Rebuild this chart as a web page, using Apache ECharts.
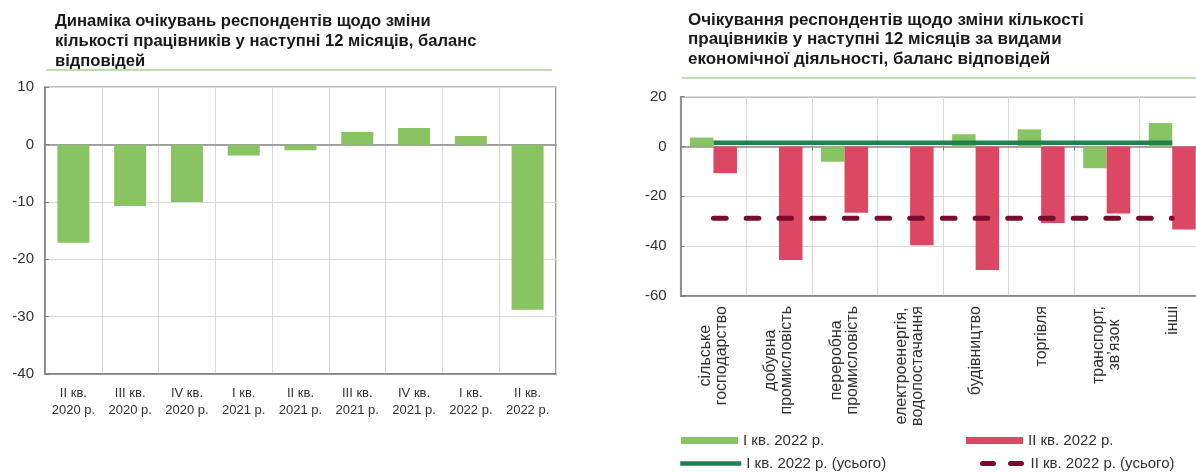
<!DOCTYPE html>
<html>
<head>
<meta charset="utf-8">
<script src="https://cdn.jsdelivr.net/npm/echarts@6/dist/echarts.min.js"></script>
<style>
    html, body { margin: 0; padding: 0; background: #fff; overflow: hidden; width: 1196px; height: 472px; }
    /* the source picture is cropped on the right, so the canvas runs a few px past the window */
    #chart { width: 1205px; height: 472px; }
</style>
</head>
<body>
<div id="chart"></div>
<script>
// Left chart: dynamics by quarter
const periods = ['II кв.\n2020 р.', 'III кв.\n2020 р.', 'IV кв.\n2020 р.', 'I кв.\n2021 р.', 'II кв.\n2021 р.',
    'III кв.\n2021 р.', 'IV кв.\n2021 р.', 'I кв.\n2022 р.', 'II кв.\n2022 р.'];
const balanceByPeriod = [-17.1, -10.7, -10.0, -1.9, -1.0, 2.2, 2.9, 1.5, -28.8];
const leftTicks = { min: -40, max: 10, interval: 10 };

// Right chart: by kind of economic activity
const sectors = ['сільське\nгосподарство', 'добувна\nпромисловість', 'переробна\nпромисловість',
    'електроенергія,\nводопостачання', 'будівництво', 'торгівля', 'транспорт,\nзв’язок', 'інші'];
const q1Sectors = [3.6, 0, -6.1, 0, 4.9, 6.9, -8.7, 9.4];
const q2Sectors = [-10.7, -45.5, -26.6, -39.6, -49.6, -30.7, -26.9, -33.3];
const q1Total = [1.5, 1.5, 1.5, 1.5, 1.5, 1.5, 1.5, 1.5];
const q2Total = [-28.8, -28.8, -28.8, -28.8, -28.8, -28.8, -28.8, -28.8];
const rightTicks = { min: -60, max: 20, interval: 20 };

const seriesNames = ['I кв. 2022 р.', 'II кв. 2022 р.', 'I кв. 2022 р. (усього)', 'II кв. 2022 р. (усього)'];

const FONT = '"Liberation Sans", Arial, sans-serif';
const TEXT = '#333333';
const FRAME = '#7f7f7f';
const GRIDLINE = '#dadada';
const GREEN = '#88c461';
const RED = '#dc4863';
const DARK_GREEN = '#21804c';
const MAROON = '#7a0b2d';

const titleStyle = (size) => ({
    fontSize: size,
    fontWeight: 'bold',
    color: '#1a1a1a',
    fontFamily: FONT,
    lineHeight: 19.8
});

function valueAxis(gridIndex, ticks, margin) {
    return {
        type: 'value',
        gridIndex: gridIndex,
        min: ticks.min,
        max: ticks.max,
        interval: ticks.interval,
        axisLine: { show: true, lineStyle: { color: FRAME, width: 1.5 } },
        axisTick: { show: true, inside: true, length: 4, lineStyle: { color: FRAME } },
        axisLabel: { fontSize: 15, color: TEXT, fontFamily: FONT, margin: margin },
        splitLine: { lineStyle: { color: GRIDLINE, width: 1 } }
    };
}

function zeroAxis(gridIndex, data, showTicks) {
    return {
        type: 'category',
        gridIndex: gridIndex,
        data: data,
        position: 'top',
        axisLine: { show: true, onZero: true, lineStyle: { color: '#8a8a8a', width: 1.5 } },
        axisTick: { show: showTicks, inside: true, length: 4, lineStyle: { color: FRAME } },
        axisLabel: { show: false },
        splitLine: { show: false }
    };
}

function legendItem(name, left, top, extra) {
    return Object.assign({
        left: left,
        top: top,
        padding: 0,
        itemGap: 0,
        selectedMode: false,
        textStyle: { fontSize: 15, color: TEXT, fontFamily: FONT },
        data: [name]
    }, extra);
}

const option = {
    animation: false,
    backgroundColor: '#ffffff',
    title: [
        {
            text: 'Динаміка очікувань респондентів щодо зміни\nкількості працівників у наступні 12 місяців, баланс\nвідповідей',
            left: 55,
            top: 12,
            padding: 0,
            textStyle: titleStyle(16.6)
        },
        {
            text: 'Очікування респондентів щодо зміни кількості\nпрацівників у наступні 12 місяців за видами\nекономічної діяльності, баланс відповідей',
            left: 688,
            top: 10,
            padding: 0,
            textStyle: titleStyle(17)
        }
    ],
    graphic: [
        { type: 'line', shape: { x1: 46, y1: 70, x2: 552, y2: 70 }, style: { stroke: '#a9d38f', lineWidth: 1.5 } },
        { type: 'line', shape: { x1: 682, y1: 78, x2: 1205, y2: 78 }, style: { stroke: '#a9d38f', lineWidth: 1.5 } }
    ],
    legend: [
        legendItem(seriesNames[0], 681, 433, { itemWidth: 57, itemHeight: 7, icon: 'rect' }),
        legendItem(seriesNames[2], 678, 456, { itemWidth: 61, itemHeight: 14, lineStyle: { width: 4.5 }, itemStyle: { opacity: 0 } }),
        legendItem(seriesNames[1], 966, 433, { itemWidth: 57, itemHeight: 7, icon: 'rect' }),
        legendItem(seriesNames[3], 980, 456, {
            itemWidth: 43,
            itemHeight: 14,
            lineStyle: { width: 5, type: [11, 17], cap: 'round' },
            itemStyle: { opacity: 0 }
        })
    ],
    grid: [
        { left: 45, right: 649, top: 87.3, bottom: 98, show: true, borderColor: FRAME, borderWidth: 1.5 },
        { left: 680.7, right: 0, top: 96.7, bottom: 176, show: true, borderColor: FRAME, borderWidth: 1.5 }
    ],
    xAxis: [
        {
            type: 'category',
            gridIndex: 0,
            data: periods,
            axisLine: { show: true, onZero: false, lineStyle: { color: FRAME, width: 1.5 } },
            axisTick: { show: false },
            axisLabel: { interval: 0, fontSize: 13, lineHeight: 17, color: TEXT, fontFamily: FONT, margin: 11 },
            splitLine: { show: true, lineStyle: { color: GRIDLINE, width: 1 } }
        },
        zeroAxis(0, periods, false),
        {
            type: 'category',
            gridIndex: 1,
            data: sectors,
            axisLine: { show: true, onZero: false, lineStyle: { color: FRAME, width: 1.5 } },
            axisTick: { show: false },
            axisLabel: {
                interval: 0,
                rotate: 90,
                margin: 10,
                fontSize: 16,
                lineHeight: 16,
                color: TEXT,
                fontFamily: FONT,
                formatter: (value) => value.split('\n').map(line => '{c|' + line + '}').join('\n'),
                rich: {
                    c: { align: 'center', fontSize: 16, lineHeight: 16, color: TEXT, fontFamily: FONT }
                }
            },
            splitLine: { show: true, lineStyle: { color: GRIDLINE, width: 1 } }
        },
        zeroAxis(1, sectors, true)
    ],
    yAxis: [
        valueAxis(0, leftTicks, 11),
        valueAxis(1, rightTicks, 14)
    ],
    series: [
        {
            type: 'bar',
            name: 'Баланс',
            xAxisIndex: 0,
            yAxisIndex: 0,
            data: balanceByPeriod,
            barWidth: 32,
            itemStyle: { color: GREEN }
        },
        {
            type: 'bar',
            name: seriesNames[0],
            xAxisIndex: 2,
            yAxisIndex: 1,
            data: q1Sectors,
            barWidth: 23.5,
            barGap: '0%',
            itemStyle: { color: GREEN }
        },
        {
            type: 'bar',
            name: seriesNames[1],
            xAxisIndex: 2,
            yAxisIndex: 1,
            data: q2Sectors,
            barWidth: 23.5,
            barGap: '0%',
            itemStyle: { color: RED }
        },
        {
            type: 'line',
            name: seriesNames[2],
            xAxisIndex: 2,
            yAxisIndex: 1,
            data: q1Total,
            symbol: 'none',
            lineStyle: { color: DARK_GREEN, width: 4.5 },
            itemStyle: { color: DARK_GREEN },
            z: 5
        },
        {
            type: 'line',
            name: seriesNames[3],
            xAxisIndex: 2,
            yAxisIndex: 1,
            data: q2Total,
            symbol: 'none',
            lineStyle: { color: MAROON, width: 5, type: [12.7, 20], cap: 'round' },
            itemStyle: { color: MAROON },
            z: 5
        }
    ]
};

const chart = echarts.init(document.getElementById('chart'), null, { renderer: 'canvas' });
chart.setOption(option);
</script>
</body>
</html>
